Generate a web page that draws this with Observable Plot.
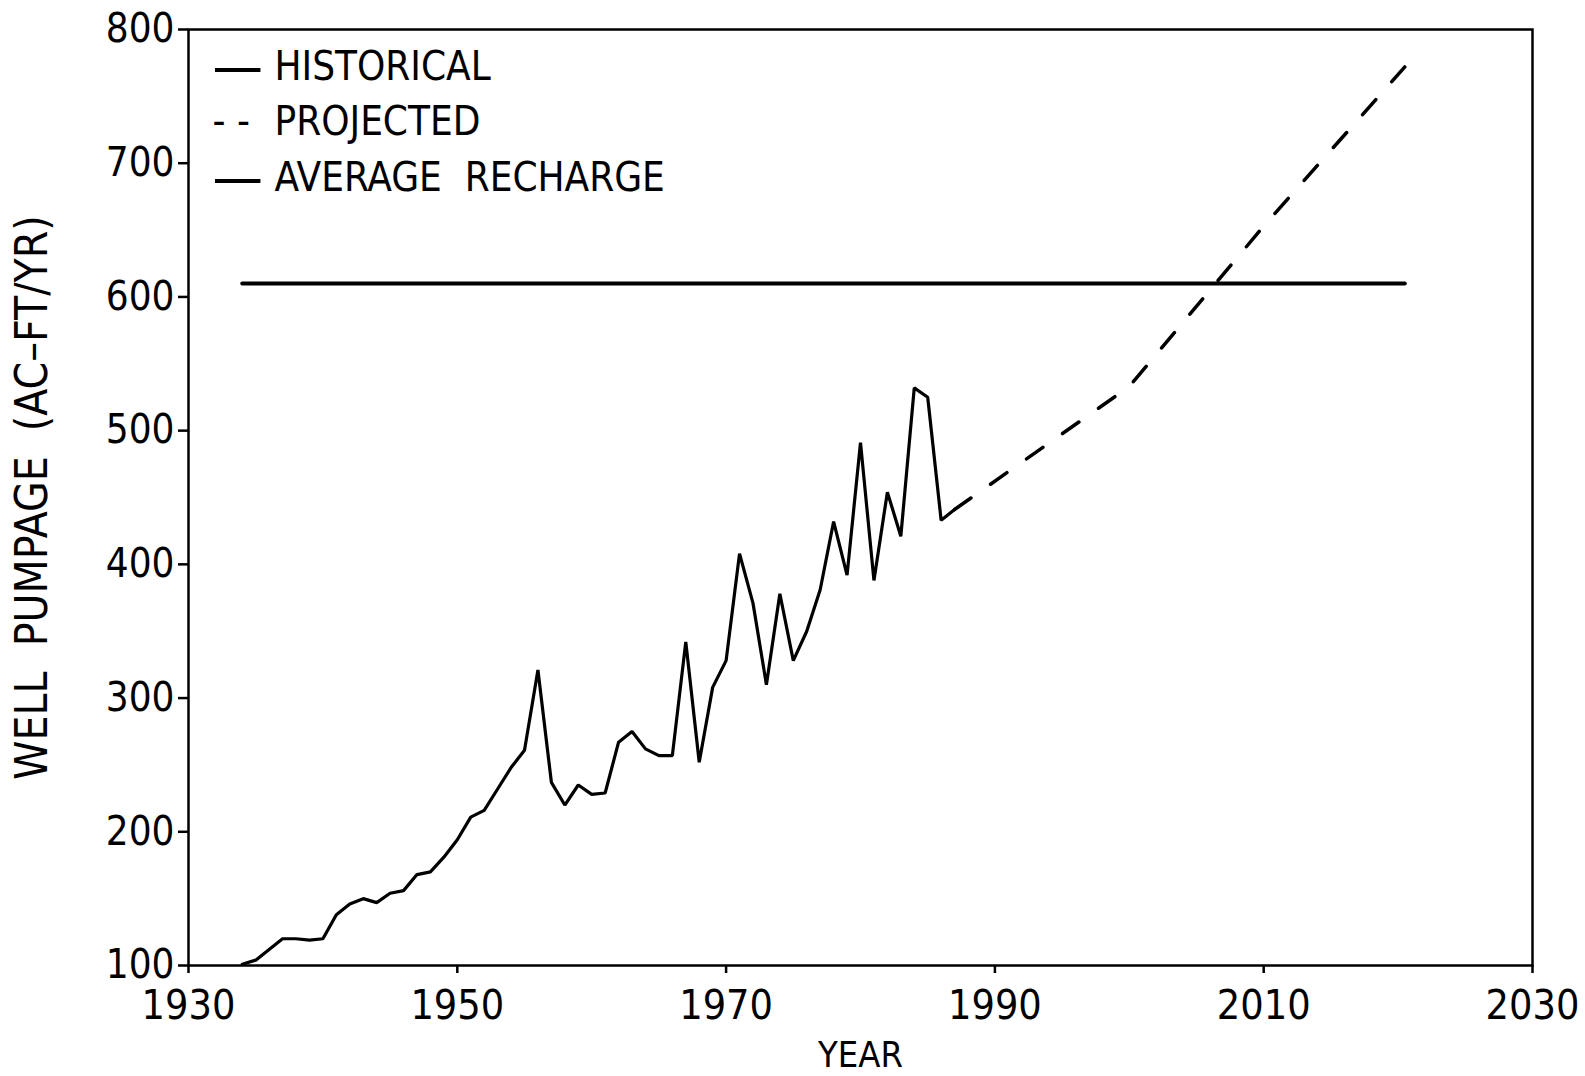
<!DOCTYPE html>
<html><head><meta charset="utf-8">
<script src="https://cdn.jsdelivr.net/npm/d3@7"></script>
<script src="https://cdn.jsdelivr.net/npm/@observablehq/plot@0.6"></script>
<style>
body{margin:0;background:#fff;}
svg text{font-family:"Liberation Sans Narrow","Arial Narrow","DejaVu Sans Condensed",sans-serif;}
</style></head><body><div id="chart"></div>
<script>
const histYears = [1934,1935,1936,1937,1938,1939,1940,1941,1942,1943,1944,1945,1946,1947,1948,1949,1950,1951,1952,1953,1954,1955,1956,1957,1958,1959,1960,1961,1962,1963,1964,1965,1966,1967,1968,1969,1970,1971,1972,1973,1974,1975,1976,1977,1978,1979,1980,1981,1982,1983,1984,1985,1986,1987];
const histValues = [101,104,112,120,120,119,120,138,146,150,147,154,156,168,170,181,194,211,216,232,248,261,321,237,220,235,228,229,267,275,262,257,257,342,252,308,328,408,371,310,378,328,350,381,432,392,491,388,454,421,532,525,433,441];
const projYears = [1987, 2000, 2010, 2020.5];
const projValues = [441, 533, 653, 772];
const rechargeYears = [1934, 2020.5];
const rechargeValue = 610;
const xTicks = [1930, 1950, 1970, 1990, 2010, 2030];
const yTicks = [100, 200, 300, 400, 500, 600, 700, 800];
const legendLabels = ["HISTORICAL", "PROJECTED", "AVERAGE  RECHARGE"];
const legendSymbols = ["\u2014", "- -", "\u2014"];
const xLabel = "YEAR";
const yLabel = "WELL  PUMPAGE  (AC\u2013FT/YR)";

const hist = histYears.map((y, i) => ({year: y, value: histValues[i]}));
const proj = projYears.map((y, i) => ({year: y, value: projValues[i]}));
const recharge = rechargeYears.map(y => ({year: y, value: rechargeValue}));

const legendRows = [38, 93, 149];
const legendSymbolSize = [56, 40, 56];
const legendMarks = [];
legendLabels.forEach((lab, i) => {
  legendMarks.push(Plot.text([legendSymbols[i]], {text: d => d, frameAnchor: "top-left", dx: 24, dy: legendRows[i], textAnchor: "start", lineAnchor: "middle", fontSize: legendSymbolSize[i], fill: "black"}));
  legendMarks.push(Plot.text([lab], {text: d => d, frameAnchor: "top-left", dx: 86, dy: legendRows[i], textAnchor: "start", lineAnchor: "middle", fontSize: 40, fill: "black"}));
});

const chart = Plot.plot({
  width: 1585, height: 1076,
  marginLeft: 188, marginRight: 53, marginTop: 29, marginBottom: 111,
  x: {domain: [1930, 2030]},
  y: {domain: [100, 800]},
  style: {background: "white", color: "black"},
  marks: [
    Plot.frame({stroke: "black", strokeWidth: 2.5}),
    Plot.axisX({ticks: xTicks, tickFormat: d => String(d), tickSize: 8, tickPadding: 16, fontSize: 41, label: null, strokeWidth: 2.5, fill: "black", stroke: "black", style: {letterSpacing: "1px"}}),
    Plot.axisY({ticks: yTicks, tickFormat: d => String(d), tickSize: 10, tickPadding: 4, fontSize: 40, label: null, strokeWidth: 2.5, fill: "black", stroke: "black", style: {letterSpacing: "1.5px"}}),
    Plot.lineY(recharge, {x: "year", y: "value", stroke: "black", strokeWidth: 4}),
    Plot.lineY(hist, {x: "year", y: "value", stroke: "black", strokeWidth: 3.2, strokeLinejoin: "miter"}),
    Plot.lineY(proj, {x: "year", y: "value", stroke: "black", strokeWidth: 3.5, strokeDasharray: "20,24"}),
    ...legendMarks,
    Plot.text([xLabel], {text: d => d, frameAnchor: "bottom", dy: 90, textAnchor: "middle", lineAnchor: "middle", fontSize: 36, fill: "black"}),
    Plot.text([yLabel], {text: d => d, frameAnchor: "left", dx: -156, rotate: -90, textAnchor: "middle", lineAnchor: "middle", fontSize: 44, fill: "black"})
  ]
});
document.getElementById("chart").appendChild(chart);
</script></body></html>
